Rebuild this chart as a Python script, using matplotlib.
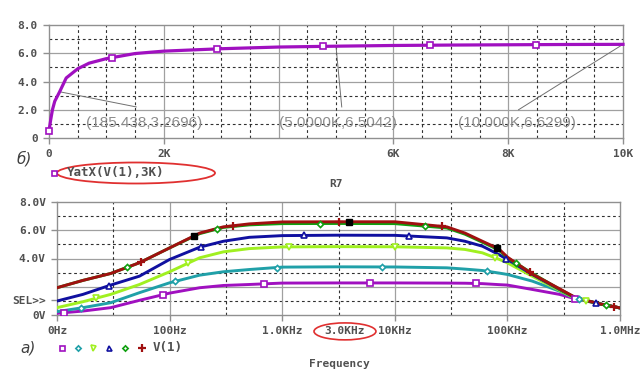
import numpy as np
import matplotlib
matplotlib.use("Agg")
import matplotlib.pyplot as plt
from matplotlib.patches import Ellipse

# ---- top plot: YatX(V(1),3K) versus R7 ----
r7 = [0, 30, 60, 100, 185, 300, 500, 700, 1000, 1500, 2000, 3000, 4000,
      5000, 6000, 7000, 8000, 9000, 10000]
yatx = [0.5, 1.3, 2.0, 2.6, 3.27, 4.25, 4.9, 5.3, 5.62, 5.98, 6.15, 6.32,
        6.44, 6.50, 6.55, 6.58, 6.60, 6.62, 6.63]
r7_marks = [0, 1090, 2930, 4770, 6630, 8490]
cursor_r = [185.438, 5000, 10000]
cursor_txt = ["(185.438,3.2696)", "(5.0000K,6.5042)", "(10.000K,6.6299)"]

# ---- bottom plot: V(1) versus frequency, six R7 steps ----
freq = [10, 17, 30, 54, 100, 185, 300, 510, 1000, 3000, 10000, 29000, 42000,
        60000, 84000, 100000, 166000, 290000, 400000, 650000, 1000000]
v_purple = [0.12, 0.28, 0.52, 1.04, 1.55, 1.93, 2.09, 2.16, 2.26, 2.27, 2.27,
            2.26, 2.25, 2.22, 2.15, 2.12, 1.81, 1.46, 1.15, 0.8, 0.5]
v_teal = [0.24, 0.52, 0.87, 1.58, 2.28, 2.82, 3.06, 3.22, 3.39, 3.41, 3.40,
          3.34, 3.25, 3.15, 2.97, 2.87, 2.40, 1.69, 1.18, 0.8, 0.5]
v_lime = [0.52, 0.94, 1.46, 2.16, 3.06, 4.05, 4.47, 4.70, 4.82, 4.84, 4.83,
          4.75, 4.64, 4.40, 3.95, 3.69, 2.75, 1.74, 1.18, 0.8, 0.5]
v_blue = [0.99, 1.46, 2.12, 2.75, 3.93, 4.80, 5.22, 5.50, 5.62, 5.65, 5.64,
          5.46, 5.22, 4.87, 4.28, 3.93, 2.87, 1.81, 1.22, 0.8, 0.5]
v_green = [1.93, 2.45, 2.94, 3.70, 4.75, 5.76, 6.20, 6.38, 6.47, 6.48, 6.47,
           6.16, 5.72, 5.15, 4.60, 4.05, 2.95, 1.83, 1.23, 0.8, 0.5]
v_red = [1.93, 2.45, 2.94, 3.70, 4.75, 5.80, 6.24, 6.45, 6.59, 6.60, 6.60,
         6.24, 5.80, 5.22, 4.68, 4.10, 2.90, 1.86, 1.25, 0.8, 0.5]
# log10 of the frequencies where PSpice put the symbols
mk_purple = [1.06, 1.94, 2.84, 3.78, 4.72, 5.60]
mk_teal = [1.21, 2.05, 2.95, 3.89, 4.82, 5.64]
mk_lime = [1.35, 2.16, 3.06, 4.00, 4.89, 5.70]
mk_blue = [1.46, 2.28, 3.19, 4.13, 4.99, 5.79]
mk_green = [1.62, 2.42, 3.34, 4.27, 5.08, 5.88]
mk_red = [1.75, 2.56, 3.50, 4.42, 5.20, 5.95]
cursor_f = [2.22, 3.59, 4.91]

series = [
    (v_purple, mk_purple, "#a010c0", "s"),
    (v_teal, mk_teal, "#20a0a8", "D"),
    (v_lime, mk_lime, "#a0f020", "v"),
    (v_blue, mk_blue, "#1010a0", "^"),
    (v_green, mk_green, "#10a010", "D"),
    (v_red, mk_red, "#a01010", "+"),
]

LBL = dict(family="DejaVu Sans Mono", fontweight="bold", color="#505050", fontsize=8)
GRID_SOLID = dict(color="#a0a0a0", lw=0.9, zorder=0)
GRID_DASH = dict(color="#303030", lw=0.8, ls=(0, (2.5, 2.5)), zorder=0)


def mstyle(m, col, big=4.0):
    # hollow symbols like PSpice, "+" is just strokes
    if m == "+":
        return dict(marker="+", ms=big + 1.5, mec=col, mew=1.6)
    size = big - 0.9 if m == "D" else big
    return dict(marker=m, ms=size, mfc="white", mec=col, mew=1.2)


fig = plt.figure(figsize=(6.42, 3.80), dpi=100)


def frame(ax):
    for s in ax.spines.values():
        s.set_color("#909090")
        s.set_linewidth(1.0)
    ax.tick_params(length=4, width=1, color="#909090", pad=4)
    for t in ax.get_xticklabels() + ax.get_yticklabels():
        t.set_fontfamily(LBL["family"])
        t.set_fontweight("bold")
        t.set_color(LBL["color"])
        t.set_fontsize(LBL["fontsize"])


# ---------------- top ----------------
ax1 = fig.add_axes([49 / 642, 1 - 138 / 380, 574 / 642, 113 / 380])
ax1.set_xlim(0, 10000)
ax1.set_ylim(0, 8)
for y in [2, 4, 6]:
    ax1.axhline(y, **GRID_SOLID)
for y in [1, 3, 5, 7]:
    ax1.axhline(y, **GRID_DASH)
for x in range(2000, 10000, 2000):
    ax1.axvline(x, **GRID_SOLID)
for x in np.arange(500, 10000, 1000):
    ax1.axvline(x, **GRID_DASH)
for x in range(1000, 10000, 2000):
    ax1.axvline(x, **GRID_DASH)

purple = series[0][2]
ax1.plot(r7, yatx, color=purple, lw=2.3, zorder=3, clip_on=False)
ax1.plot(r7_marks, np.interp(r7_marks, r7, yatx), ls="none", zorder=4,
         clip_on=False, **mstyle("s", purple))

# cursor labels with leader lines
txt_pos = [(0.064, 0.13), (0.40, 0.13), (0.713, 0.13)]
leader_end = [(1520, 2.2), (5100, 2.2), (8180, 2.0)]
for xr, s, (tx, ty), (lx, ly) in zip(cursor_r, cursor_txt, txt_pos, leader_end):
    yv = np.interp(xr, r7, yatx)
    ax1.plot([xr, lx], [yv, ly], color="#707070", lw=0.7, zorder=2)
    ax1.text(tx, ty, s, transform=ax1.transAxes, family="Liberation Sans",
             fontsize=11, color="#8c8c8c", va="center", ha="left", zorder=5)

ax1.set_xticks([0, 2000, 6000, 8000, 10000])
ax1.set_xticklabels(["0", "2K", "6K", "8K", "10K"])
ax1.set_yticks([0, 2, 4, 6, 8])
ax1.set_yticklabels(["0", "2.0", "4.0", "6.0", "8.0"])
frame(ax1)

# ---------------- bottom ----------------
ax2 = fig.add_axes([57 / 642, 1 - 315 / 380, 563 / 642, 113 / 380])
ax2.set_xscale("log")
ax2.set_xlim(10, 1e6)
ax2.set_ylim(0, 8)
ax2.minorticks_off()
for y in [2, 4, 6]:
    ax2.axhline(y, **GRID_SOLID)
for y in [1, 3, 5, 7]:
    ax2.axhline(y, **GRID_DASH)
for d in range(2, 6):
    ax2.axvline(10 ** d, **GRID_SOLID)
for d in range(1, 6):
    ax2.axvline(10 ** (d + 0.5), **GRID_DASH)

logf = np.log10(freq)
for vals, mk, col, m in series:
    ax2.plot(freq, vals, color=col, lw=2.1, zorder=3)
    ax2.plot(10 ** np.array(mk), np.interp(mk, logf, vals), ls="none",
             zorder=4, **mstyle(m, col))
ax2.plot(10 ** np.array(cursor_f), np.interp(cursor_f, logf, v_red), ls="none",
         marker="s", ms=5, color="black", zorder=5)

ax2.set_xticks([10, 100, 1e3, 1e4, 1e5, 1e6])
ax2.set_xticklabels(["0Hz", "100Hz", "1.0KHz", "10KHz", "100KHz", "1.0MHz"])
ax2.set_yticks([0, 1.06, 4, 6, 8])
ax2.set_yticklabels(["0V", "SEL>>", "4.0V", "6.0V", "8.0V"])
frame(ax2)

# extra labels
ax2.text(0.5115, -0.145, "3.0KHz", transform=ax2.transAxes, ha="center",
         va="center", **LBL)
ax2.add_patch(Ellipse((0.5115, -0.145), 0.11, 0.15, transform=ax2.transAxes,
                      fill=False, ec="#e03030", lw=1.2, clip_on=False))
fig.text(336 / 642, 1 - 184 / 380, "R7", ha="center", va="center", **LBL)
fig.text(339 / 642, 1 - 364 / 380, "Frequency", ha="center", va="center", **LBL)

# legends
fig.text(24 / 642, 1 - 159 / 380, "б)", style="italic", fontsize=11,
         color="#404040", ha="center", va="center")
fig.text(28 / 642, 1 - 348 / 380, "а)", style="italic", fontsize=11,
         color="#404040", ha="center", va="center")
fig.lines.append(plt.Line2D([54 / 642], [1 - 173 / 380], transform=fig.transFigure,
                            **mstyle("s", purple, 3.6)))
fig.text(67 / 642, 1 - 173 / 380, "YatX(V(1),3K)", ha="left", va="center",
         **dict(LBL, fontsize=9))
fig.patches.append(Ellipse((136 / 642, 1 - 173 / 380), 158 / 642, 21 / 380,
                           transform=fig.transFigure, fill=False, ec="#e03030", lw=1.3))

leg_x = [62, 78, 93, 109, 125, 142]
for lx, (vals, mk, col, m) in zip(leg_x, series):
    fig.lines.append(plt.Line2D([lx / 642], [1 - 348 / 380], transform=fig.transFigure,
                                **mstyle(m, col, 3.6)))
fig.text(153 / 642, 1 - 348 / 380, "V(1)", ha="left", va="center", **dict(LBL, fontsize=9))

fig.savefig("out.png", dpi=100)
